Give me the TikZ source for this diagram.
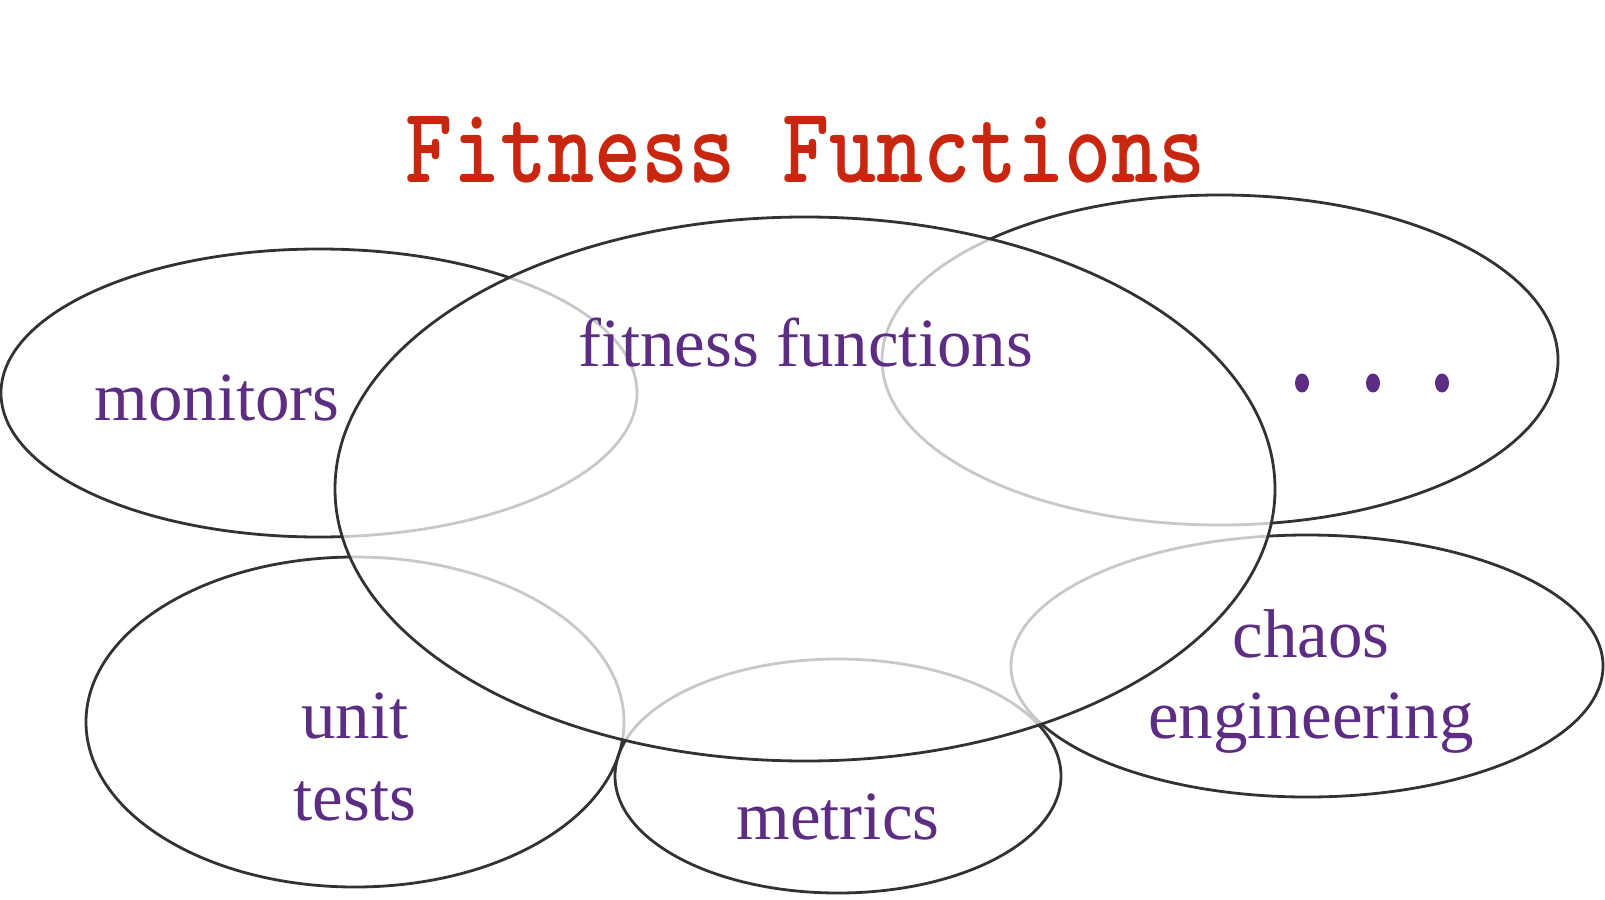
\documentclass[tikz,border=0pt]{standalone}
\usepackage{fontspec}
\setmainfont{Liberation Serif}
\newfontfamily\titlefont{lmmonolt10-bold}[Extension=.otf]
\usetikzlibrary{shapes.geometric}

\definecolor{titlered}{RGB}{200,38,14}
\definecolor{labelpurple}{RGB}{92,45,130}
\definecolor{rimdark}{RGB}{50,50,50}
\definecolor{rimlight}{RGB}{200,200,200}

\tikzset{
  rim/.style={draw=rimdark, line width=2.8pt},
  rimfaint/.style={draw=rimlight, line width=2.8pt},
  label/.style={text=labelpurple, font=\fontsize{69}{80}\selectfont, anchor=base, inner sep=0pt},
  dotmark/.style={ellipse, fill=labelpurple, inner sep=0pt, minimum width=14pt, minimum height=19pt},
}

% circle outlines: centre x, centre y, x radius, y radius
\def\monitorsE{(319,393) ellipse [x radius=318pt, y radius=144pt]}
\def\othersE{(1220,360) ellipse [x radius=338pt, y radius=165pt]}
\def\unitE{(355,722) ellipse [x radius=269pt, y radius=165pt]}
\def\metricsE{(838,776) ellipse [x radius=223pt, y radius=117pt]}
\def\chaosE{(1307,666) ellipse [x radius=296pt, y radius=131pt]}
\def\coreE{(805,489) ellipse [x radius=470pt, y radius=272pt]}

\begin{document}
\begin{tikzpicture}[x=1pt, y=-1pt]
  \useasboundingbox (0,0) rectangle (1605,899);

  % outer circles, full outline in dark
  \draw[rim] \monitorsE;
  \draw[rim] \othersE;
  \draw[rim] \unitE;
  \draw[rim] \metricsE;
  \draw[rim] \chaosE;

  % the central circle hides them, and their inner parts show faint
  \fill[white] \coreE;
  \begin{scope}
    \clip \coreE;
    \draw[rimfaint] \monitorsE;
    \draw[rimfaint] \othersE;
    \draw[rimfaint] \unitE;
    \draw[rimfaint] \metricsE;
    \draw[rimfaint] \chaosE;
  \end{scope}
  \draw[rim] \coreE;

  % heading
  \node[text=titlered, anchor=base, inner sep=0pt, xscale=0.83,
        font=\titlefont\fontsize{108}{120}\selectfont] (title) at (806,182) {Fitness Functions};

  % labels
  \node[label] (core) at (806,366) {fitness functions};
  \node[label] (monitors) at (217,420) {monitors};
  \node[label] (unit) at (355,738) {unit};
  \node[label] (tests) at (355,820) {tests};
  \node[label] (metrics) at (838,839) {metrics};
  \node[label] (chaos) at (1311,657) {chaos};
  \node[label] (engineering) at (1311,738) {engineering};

  \node[dotmark] (dot1) at (1302,383) {};
  \node[dotmark] (dot2) at (1373,383) {};
  \node[dotmark] (dot3) at (1442,383) {};
\end{tikzpicture}
\end{document}
